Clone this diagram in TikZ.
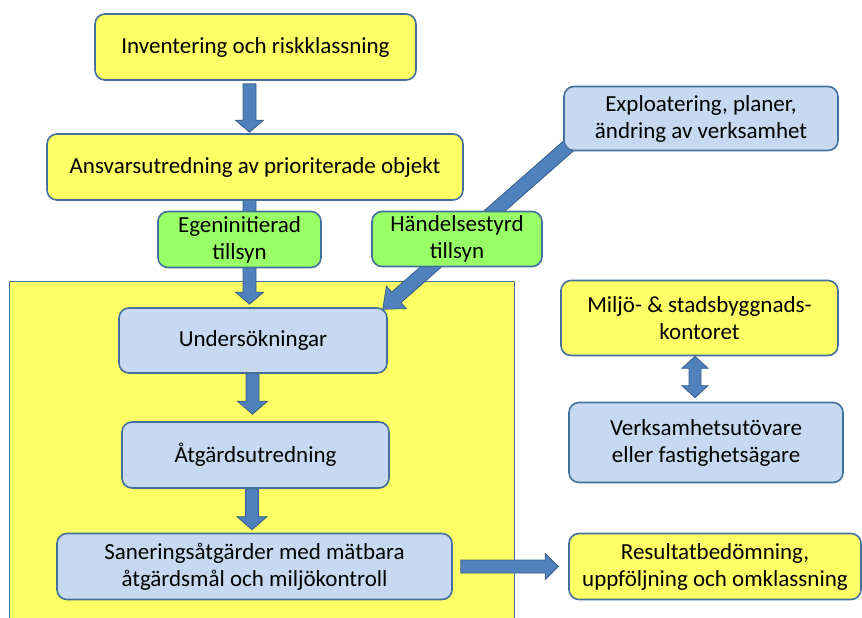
\documentclass[tikz,border=0pt]{standalone}
\usepackage{fontspec}
\setmainfont{Carlito}
\usetikzlibrary{calc}
\definecolor{yel}{HTML}{FFFF66}
\definecolor{lblue}{HTML}{C6D9F1}
\definecolor{grn}{HTML}{99FF66}
\definecolor{bord}{HTML}{41719C}
\definecolor{arrfill}{HTML}{4F81BD}
\definecolor{arrbord}{HTML}{385D8A}
\pgfdeclarelayer{back}
\pgfdeclarelayer{arr}
\pgfsetlayers{back,arr,main}
\tikzset{
  x=1pt, y=-1pt,
  box/.style={draw=bord, line width=1.6pt, rounded corners=10pt, align=center,
    inner sep=0pt, font=\fontsize{23}{27}\selectfont},
  yelbox/.style={box, fill=yel},
  bluebox/.style={box, fill=lblue},
  grnbox/.style={box, fill=grn},
  blockarr/.style={fill=arrfill, draw=arrbord, line width=0.8pt, line join=miter},
}
% #1 start, #2 tip, #3 half shaft width, #4 half head width, #5 head length
\newcommand\blkarrow[5]{%
  \coordinate (ba-h) at ($(#2)!#5!(#1)$);
  \path[blockarr]
    ($(#1)!#3!90:(#2)$) -- ($(ba-h)!#3!-90:(#1)$) -- ($(ba-h)!#4!-90:(#1)$) --
    (#2) -- ($(ba-h)!#4!90:(#1)$) -- ($(ba-h)!#3!90:(#1)$) --
    ($(#1)!#3!-90:(#2)$) -- cycle;
}
\newcommand\dblarrow[5]{%
  \coordinate (ba-h) at ($(#2)!#5!(#1)$);
  \coordinate (ba-g) at ($(#1)!#5!(#2)$);
  \path[blockarr]
    (#1) -- ($(ba-g)!#4!90:(#2)$) -- ($(ba-g)!#3!90:(#2)$) --
    ($(ba-h)!#3!-90:(#1)$) -- ($(ba-h)!#4!-90:(#1)$) --
    (#2) -- ($(ba-h)!#4!90:(#1)$) -- ($(ba-h)!#3!90:(#1)$) --
    ($(ba-g)!#3!-90:(#2)$) -- ($(ba-g)!#4!-90:(#2)$) -- cycle;
}
\begin{document}
\begin{tikzpicture}
\useasboundingbox (0,0) rectangle (862,618);
% big background area
\begin{pgfonlayer}{back}
\node[draw=bord, line width=1.6pt, fill=yel, minimum width=505pt, minimum height=345pt,
  inner sep=0pt, anchor=north west] (area) at (8.5,280.5) {};
\end{pgfonlayer}
% nodes
\node[yelbox, minimum width=321pt, minimum height=66pt] (inv) at (255.5,47) {Inventering och riskklassning};
\node[yelbox, minimum width=416pt, minimum height=66pt] (ans) at (255,167) {Ansvarsutredning av prioriterade objekt};
\node[grnbox, minimum width=163pt, minimum height=56pt] (ege) at (239.5,239.5) {Egeninitierad\\tillsyn};
\node[grnbox, minimum width=170pt, minimum height=55pt] (hand) at (457,239) {Händelsestyrd\\tillsyn};
\node[bluebox, minimum width=274pt, minimum height=64pt] (exp) at (701,118.5) {Exploatering, planer,\\ändring av verksamhet};
\node[bluebox, minimum width=268pt, minimum height=65pt] (und) at (253,340.5) {Undersökningar};
\node[bluebox, minimum width=267pt, minimum height=66pt] (atg) at (255.5,455) {Åtgärdsutredning};
\node[bluebox, minimum width=395pt, minimum height=66pt] (san) at (254.5,566.5) {Saneringsåtgärder med mätbara\\åtgärdsmål och miljökontroll};
\node[yelbox, minimum width=277pt, minimum height=75pt] (milj) at (699.5,318) {Miljö- \& stadsbyggnads-\\kontoret};
\node[bluebox, minimum width=274pt, minimum height=80pt] (verk) at (706,442.5) {Verksamhetsutövare\\eller fastighetsägare};
\node[yelbox, minimum width=292pt, minimum height=66pt] (res) at (715,566.5) {Resultatbedömning,\\uppföljning och omklassning};
% arrows
\begin{pgfonlayer}{arr}
\coordinate (a1s) at ($(inv.south)+(-6,3)$);
\coordinate (a1e) at ($(ans.north)+(-5.5,-1)$);
\blkarrow{a1s}{a1e}{6.5pt}{14pt}{12pt}
\coordinate (a2s) at ($(ans.south)+(-5.5,-2)$);
\coordinate (a2e) at ($(und.north)+(-3.5,-3)$);
\blkarrow{a2s}{a2e}{6.5pt}{14pt}{12pt}
\coordinate (a3s) at ($(exp.south west)+(6,-6)$);
\coordinate (a3e) at ($(und.north east)+(-5,2)$);
\blkarrow{a3s}{a3e}{7pt}{15pt}{18pt}
\coordinate (a4s) at ($(und.south)+(-0.5,0)$);
\coordinate (a4e) at ($(atg.north)+(-3,-7)$);
\blkarrow{a4s}{a4e}{6.5pt}{15pt}{13pt}
\coordinate (a5s) at ($(atg.south)+(-3.5,0)$);
\coordinate (a5e) at ($(san.north)+(-2.5,-3)$);
\blkarrow{a5s}{a5e}{6.5pt}{15pt}{13pt}
\coordinate (a7s) at ($(milj.south)+(-4.5,0)$);
\coordinate (a7e) at ($(verk.north)+(-11,-4)$);
\dblarrow{a7s}{a7e}{6pt}{13pt}{12pt}
\end{pgfonlayer}
\coordinate (a6s) at ($(san.east)+(8,0)$);
\coordinate (a6e) at ($(res.west)+(-10,0)$);
\blkarrow{a6s}{a6e}{6.5pt}{13pt}{13pt}
\end{tikzpicture}
\end{document}
